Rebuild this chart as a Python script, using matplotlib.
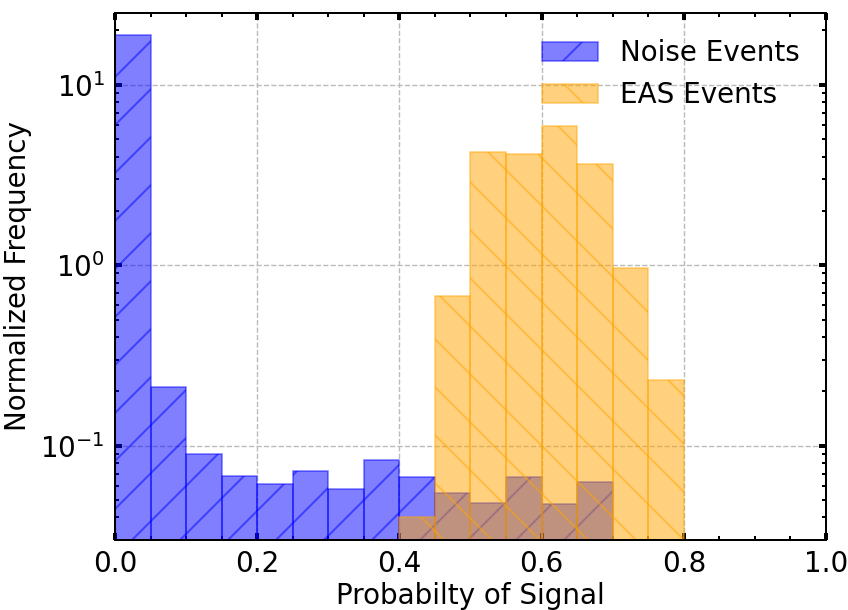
import numpy as np
import matplotlib
matplotlib.use('Agg')
import matplotlib.pyplot as plt

# Bin edges (probability of signal) and normalized frequencies
bin_edges = np.round(np.arange(0, 1.0001, 0.05), 2)
noise_freq = [18.9, 0.212, 0.090, 0.068, 0.0614, 0.072, 0.0575, 0.0833,
              0.0668, 0.0544, 0.048, 0.0668, 0.0475, 0.063, 0, 0, 0, 0, 0, 0]
eas_freq = [0, 0, 0, 0, 0, 0, 0, 0,
            0.040, 0.673, 4.22, 4.13, 5.93, 3.64, 0.966, 0.232, 0, 0, 0, 0]

plt.rcParams['font.size'] = 13.9
plt.rcParams['hatch.linewidth'] = 1.0
plt.rcParams['axes.linewidth'] = 1.0

centers = (bin_edges[:-1] + bin_edges[1:]) / 2

fig = plt.figure(figsize=(848 / 144, 610 / 144), dpi=144)
ax = fig.add_axes([0.1356, 0.1148, 0.8384, 0.8639])

ax.hist(centers, bins=bin_edges, weights=noise_freq, color='blue', alpha=0.5,
        edgecolor='blue', linewidth=0.8, hatch='/', label='Noise Events')
ax.hist(centers, bins=bin_edges, weights=eas_freq, color='orange', alpha=0.5,
        edgecolor='orange', linewidth=0.8, hatch='\\', label='EAS Events')

ax.set_yscale('log')
ax.set_xlim(0, 1)
ax.set_ylim(0.03, 25)
ax.set_xlabel('Probabilty of Signal', labelpad=2)
ax.set_ylabel('Normalized Frequency', labelpad=4)

ax.xaxis.set_minor_locator(matplotlib.ticker.MultipleLocator(0.05))
ax.tick_params(which='both', direction='in', top=True, right=True)
ax.tick_params(which='major', length=3.5, width=2.0, pad=5)
ax.tick_params(which='minor', length=2.0, width=1.0)
ax.grid(True, which='major', linestyle='--', color='#bbbbbb', linewidth=0.7)
ax.set_axisbelow(True)
ax.legend(loc='upper right', frameon=False, borderaxespad=0.55)

fig.savefig('out.png', dpi=144)
